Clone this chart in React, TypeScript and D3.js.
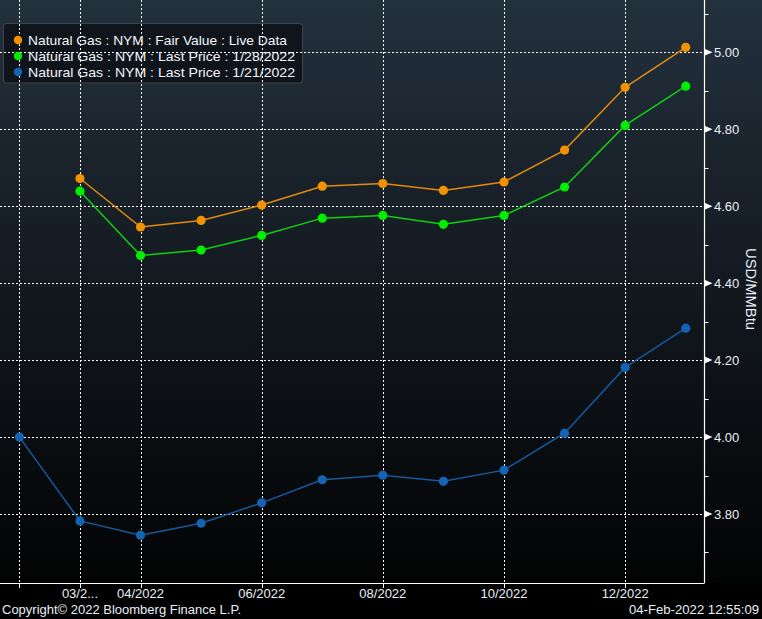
import React from "react";
import * as d3 from "d3";

const months = ["02/2022","03/2022","04/2022","05/2022","06/2022","07/2022","08/2022","09/2022","10/2022","11/2022","12/2022","01/2023"];
const fairValue: (number | null)[] = [null, 4.672, 4.546, 4.563, 4.603, 4.652, 4.659, 4.641, 4.663, 4.746, 4.909, 5.013];
const last0128: (number | null)[] = [null, 4.639, 4.472, 4.486, 4.524, 4.569, 4.576, 4.553, 4.576, 4.65, 4.81, 4.912];
const last0121: (number | null)[] = [4.0, 3.782, 3.745, 3.776, 3.829, 3.889, 3.901, 3.885, 3.914, 4.01, 4.181, 4.283];

const seriesNames = [
  "Natural Gas : NYM : Fair Value : Live Data",
  "Natural Gas : NYM : Last Price : 1/28/2022",
  "Natural Gas : NYM : Last Price : 1/21/2022",
];
const seriesColors = ["#f39200", "#00ee00", "#1563b3"];
const lineColors = ["#e08a10", "#10d010", "#17599e"];
const legendWidths = [259, 267, 267];

const xGridIdx = [0, 1, 2, 4, 6, 8, 10];
const xTickIdx = [1, 2, 4, 6, 8, 10];
const xTickLabels = ["03/2...", "04/2022", "06/2022", "08/2022", "10/2022", "12/2022"];
const yMajor = [3.8, 4.0, 4.2, 4.4, 4.6, 4.8, 5.0];
const yMinor = [3.7, 3.9, 4.1, 4.3, 4.5, 4.7, 4.9, 5.1];

const W = 762, H = 619;
const plotRight = 704.5, plotBottom = 583;
const FONT = "'Liberation Sans', Arial, sans-serif";

export default function App() {
  const x = d3.scaleLinear().domain([-0.32, 11.31]).range([0, plotRight]);
  const y = d3.scaleLinear().domain([3.6207, 5.136]).range([plotBottom, 0]);
  const all = [fairValue, last0128, last0121];
  const line = d3
    .line<number | null>()
    .defined((d) => d != null)
    .x((_, i) => x(i))
    .y((d) => y(d as number));

  return (
    <svg width={W} height={H} style={{ position: "absolute", left: 0, top: 0, display: "block" }}>
      <defs>
        <linearGradient id="bg" x1="0" y1="0" x2="0" y2="1">
          <stop offset="0%" stopColor="#23313d" />
          <stop offset="55%" stopColor="#11161c" />
          <stop offset="100%" stopColor="#020303" />
        </linearGradient>
      </defs>
      <rect x={0} y={0} width={W} height={H} fill="#000" />
      <rect x={0} y={0} width={W} height={plotBottom} fill="url(#bg)" />

      {/* legend box */}
      <rect x={3.5} y={23.5} width={299} height={59.5} rx={3} fill="#0c1015" fillOpacity={0.85} stroke="#3d444c" />

      {/* grid */}
      {yMajor.map((v) => (
        <line key={"gy" + v} x1={0} x2={plotRight} y1={Math.round(y(v)) + 0.5} y2={Math.round(y(v)) + 0.5}
          stroke="#fff" strokeWidth={1} strokeDasharray="2,2" />
      ))}
      {xGridIdx.map((i) => (
        <line key={"gx" + i} x1={Math.round(x(i)) + 0.5} x2={Math.round(x(i)) + 0.5} y1={0} y2={plotBottom}
          stroke="#fff" strokeWidth={1} strokeDasharray="2,2" />
      ))}

      {/* series */}
      {all.map((s, k) => (
        <g key={"s" + k}>
          <path d={line(s) || ""} fill="none" stroke={lineColors[k]} strokeWidth={1.5} />
          {s.map((d, i) =>
            d == null ? null : <circle key={i} cx={x(i)} cy={y(d)} r={4.6} fill={seriesColors[k]} />
          )}
        </g>
      ))}

      {/* axes */}
      <line x1={plotRight} x2={plotRight} y1={0} y2={plotBottom} stroke="#fff" strokeWidth={1.2} />
      <line x1={0} x2={plotRight} y1={plotBottom + 0.5} y2={plotBottom + 0.5} stroke="#fff" strokeWidth={1.2} />
      {xGridIdx.map((i) => (
        <line key={"xt" + i} x1={Math.round(x(i)) + 0.5} x2={Math.round(x(i)) + 0.5} y1={plotBottom} y2={plotBottom + 5}
          stroke="#fff" strokeWidth={1} />
      ))}
      {xTickIdx.map((i, j) => (
        <text key={"xl" + i} x={x(i)} y={598} fill="#e8eef5" fontSize={13} fontFamily={FONT} textAnchor="middle">
          {xTickLabels[j]}
        </text>
      ))}
      {yMinor.map((v) => (
        <line key={"ym" + v} x1={plotRight} x2={plotRight + 4} y1={Math.round(y(v)) + 0.5} y2={Math.round(y(v)) + 0.5}
          stroke="#fff" strokeWidth={1} />
      ))}
      {yMajor.map((v) => (
        <g key={"yl" + v}>
          <path d={`M${plotRight},${y(v) - 3.5} L${plotRight + 8},${y(v)} L${plotRight},${y(v) + 3.5} Z`} fill="#fff" />
          <text x={714} y={y(v) + 4.6} fill="#e8eef5" fontSize={13} fontFamily={FONT}>
            {d3.format(".2f")(v)}
          </text>
        </g>
      ))}
      <text transform={`translate(746,289) rotate(90)`} fill="#e8eef5" fontSize={14.5} fontFamily={FONT}
        textAnchor="middle" textLength={82} lengthAdjust="spacingAndGlyphs">
        USD/MMBtu
      </text>

      {/* legend content */}
      {seriesNames.map((n, k) => (
        <g key={"lg" + k}>
          <circle cx={18} cy={40 + k * 16} r={4.2} fill={seriesColors[k]} />
          <text x={28} y={45 + k * 16} fill="#f2f6fa" fontSize={13.5} fontFamily={FONT}
            textLength={legendWidths[k]} lengthAdjust="spacingAndGlyphs">
            {n}
          </text>
        </g>
      ))}

      {/* footer */}
      <text x={2} y={614} fill="#e8eef5" fontSize={12.5} fontFamily={FONT} textLength={239} lengthAdjust="spacingAndGlyphs">
        Copyright© 2022 Bloomberg Finance L.P.
      </text>
      <text x={629} y={614} fill="#e8eef5" fontSize={12.5} fontFamily={FONT} textLength={130} lengthAdjust="spacingAndGlyphs">
        04-Feb-2022 12:55:09
      </text>
    </svg>
  );
}
